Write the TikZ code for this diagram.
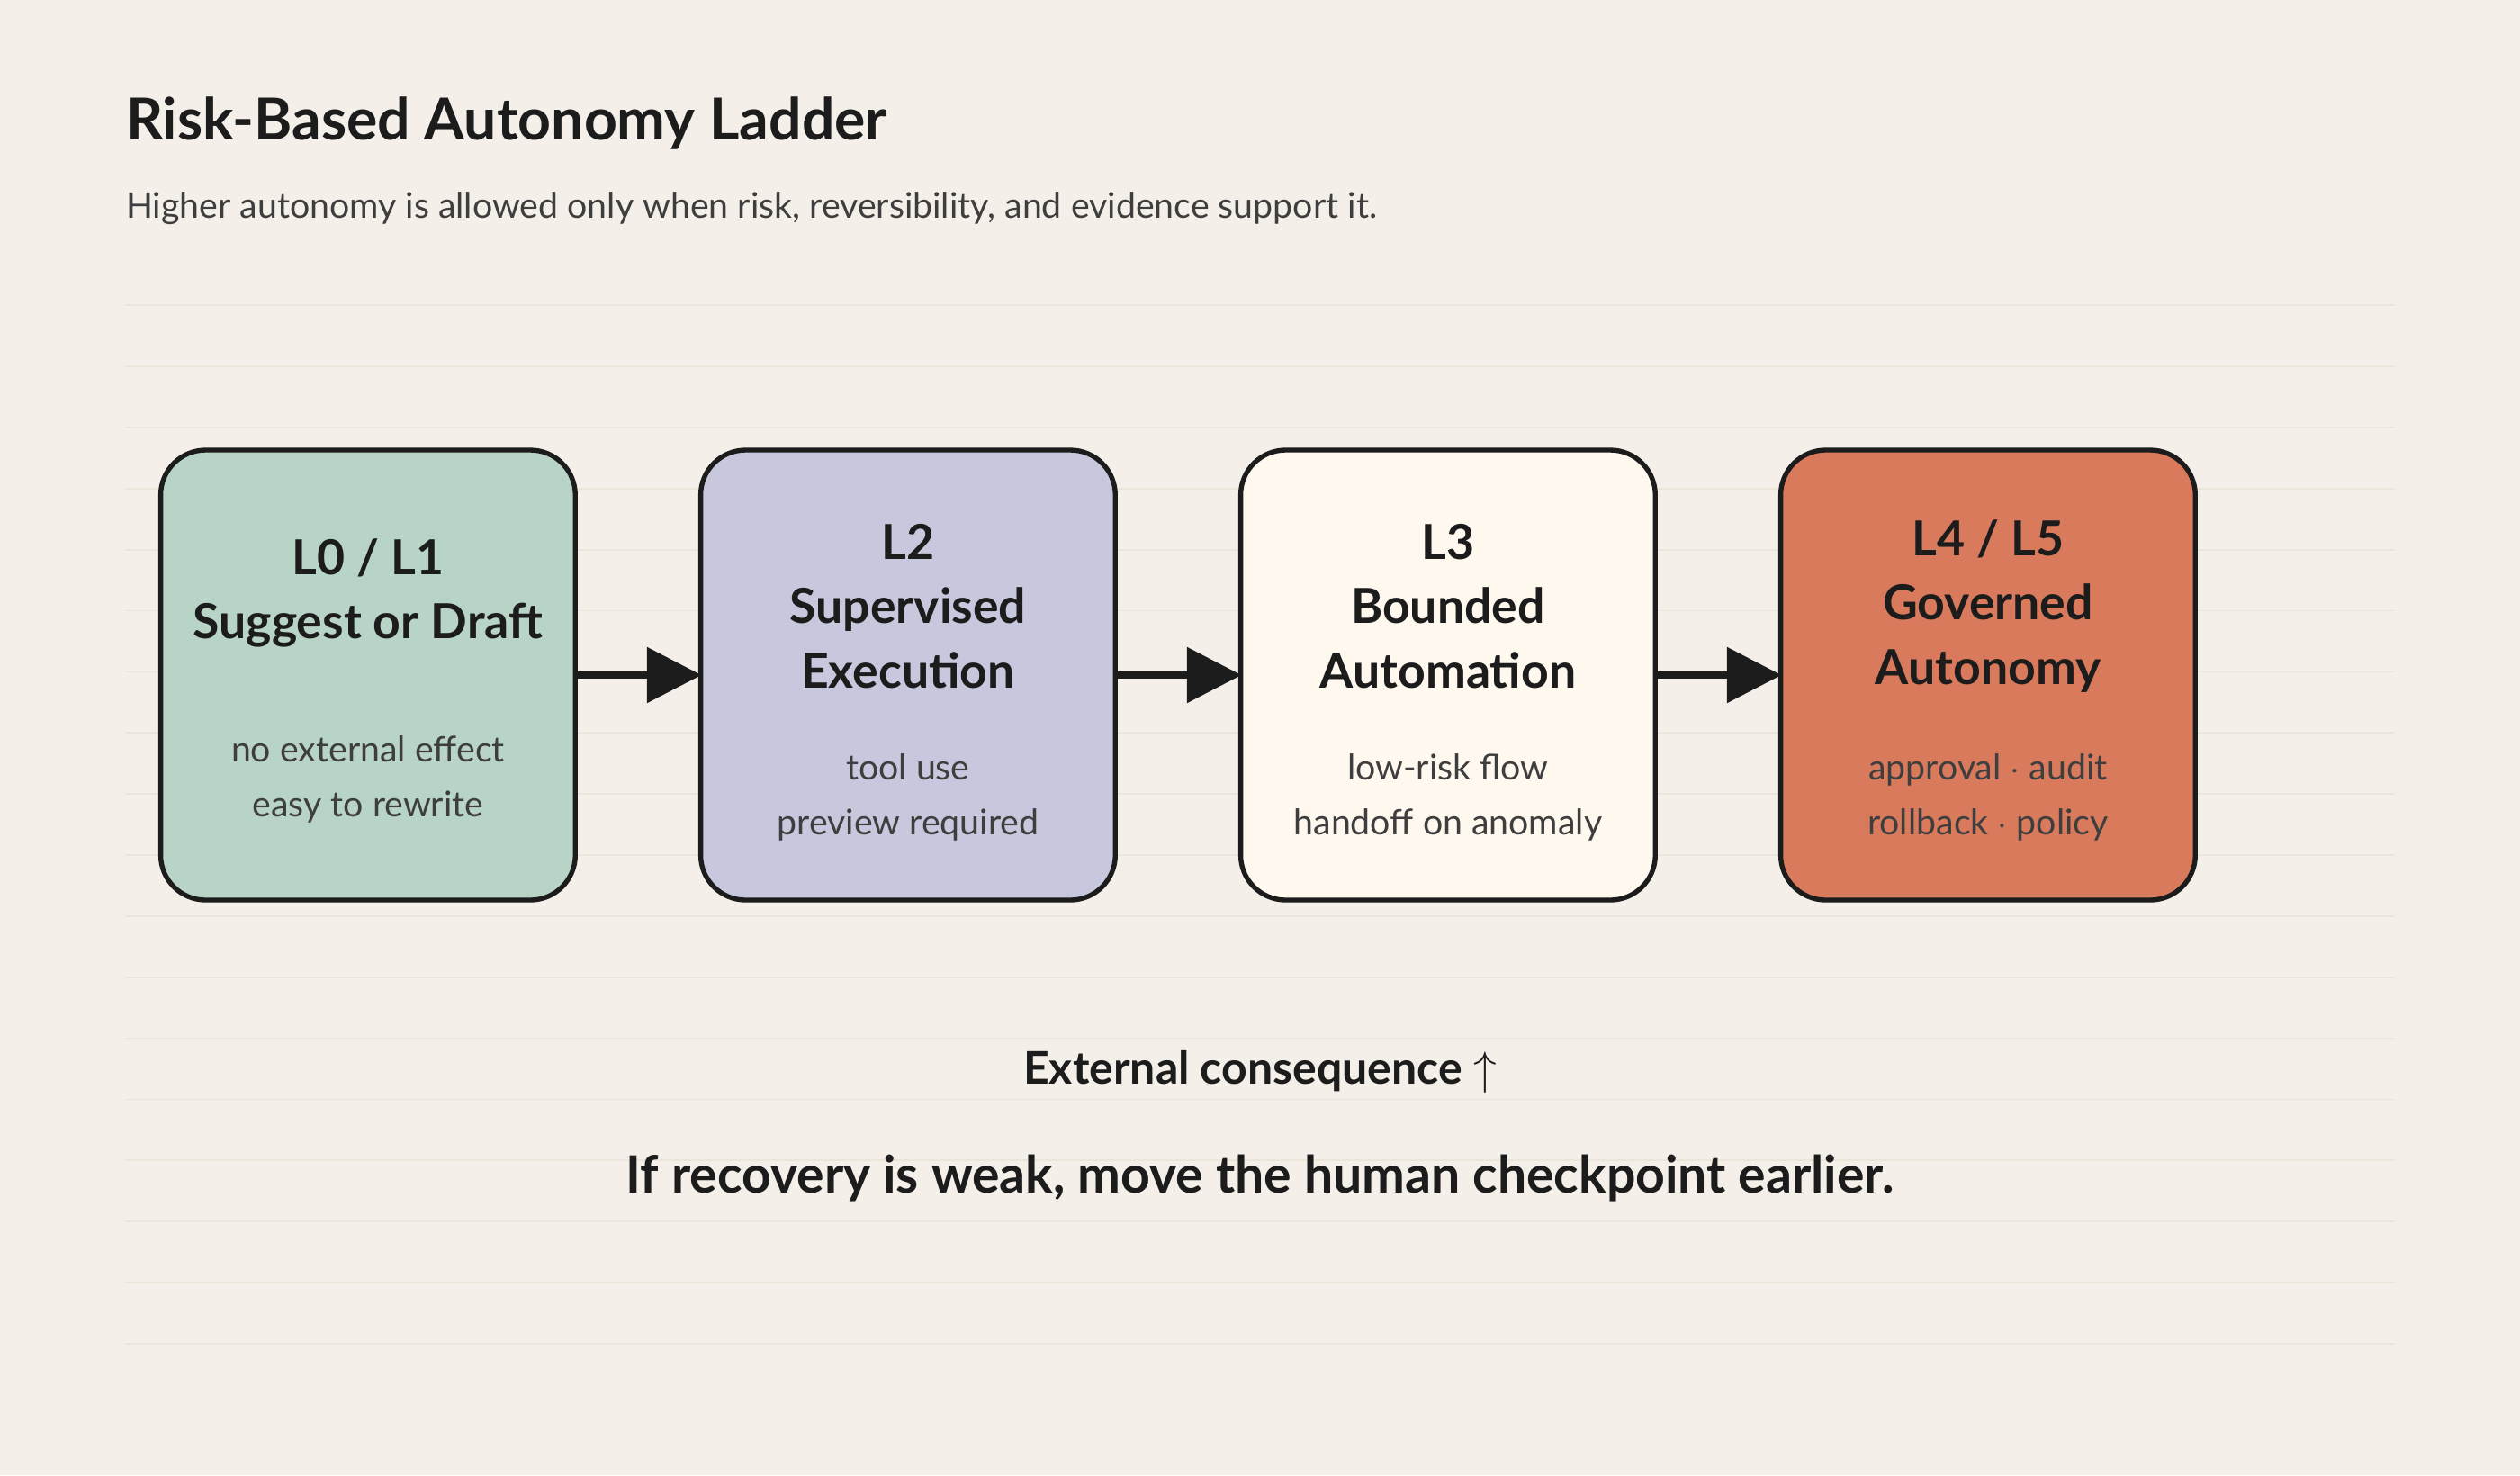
\documentclass[tikz,border=0pt]{standalone}
\usepackage{fontspec}
\setmainfont{Lato}
\usetikzlibrary{arrows.meta, positioning, calc}
\definecolor{paper}{HTML}{F4F0E9}
\definecolor{rule}{HTML}{ECE6DA}
\definecolor{ink}{HTML}{1C1C1C}
\definecolor{soft}{HTML}{3E3E3E}
\definecolor{sage}{HTML}{B7D4C6}
\definecolor{lilac}{HTML}{C7C8DD}
\definecolor{cream}{HTML}{FEF8EE}
\definecolor{clay}{HTML}{D97A5C}
\tikzset{
    level/.style={draw=ink, line width=1.5pt, rounded corners=14pt,
        minimum width=129pt, minimum height=140pt, inner sep=0pt, fill=#1},
    head/.style={font=\fontsize{15}{20}\selectfont\bfseries, text=ink, align=center, inner sep=0pt},
    body/.style={font=\fontsize{11}{17}\selectfont, text=soft, align=center, inner sep=0pt},
    rung/.style={draw=ink, line width=2pt, -{Triangle[length=17pt, width=17pt]}, shorten >=-1pt}
}
\begin{document}
\begin{tikzpicture}[x=0.5pt, y=-0.5pt]
    \fill[paper] (0,0) rectangle (1568,918);
    \useasboundingbox (0,0) rectangle (1568,918);
    % faint ruling
    \foreach \yy in {0,...,17}
        \draw[rule, line width=0.5pt] (78,190+38*\yy) -- (1490,190+38*\yy);
    \node[anchor=base west, inner sep=0pt, text=ink, font=\fontsize{18}{22}\selectfont\bfseries] (title) at (78,87) {Risk-Based Autonomy Ladder};
    \node[anchor=base west, inner sep=0pt, text=soft, font=\fontsize{11}{14}\selectfont] (sub) at (78,136) {Higher autonomy is allowed only when risk, reversibility, and evidence support it.};
    % ladder
    \node[level=sage]  (l1) at (229,420) {};
    \node[level=lilac] (l2) at (565,420) {};
    \node[level=cream] (l3) at (901,420) {};
    \node[level=clay]  (l4) at (1237,420) {};
    \node[head] at (229,369) {L0 / L1\\Suggest or Draft};
    \node[body] at (229,485) {no external effect\\easy to rewrite};
    \node[head] at (565,377) {L2\\Supervised\\Execution};
    \node[body] at (565,496) {tool use\\preview required};
    \node[head] at (901,377) {L3\\Bounded\\Automation};
    \node[body] at (901,496) {low-risk flow\\handoff on anomaly};
    \node[head] at (1237,377) {L4 / L5\\Governed\\Autonomy};
    \node[body] at (1237,496) {approval $\cdot$ audit\\rollback $\cdot$ policy};
    \draw[rung] (l1) -- (l2);
    \draw[rung] (l2) -- (l3);
    \draw[rung] (l3) -- (l4);
    \node[text=ink, inner sep=0pt, font=\fontsize{14}{17}\selectfont\bfseries] (cons) at (784,667) {External consequence $\uparrow$};
    \node[text=ink, inner sep=0pt, font=\fontsize{16}{20}\selectfont\bfseries] (note) at (784,733) {If recovery is weak, move the human checkpoint earlier.};
\end{tikzpicture}
\end{document}
